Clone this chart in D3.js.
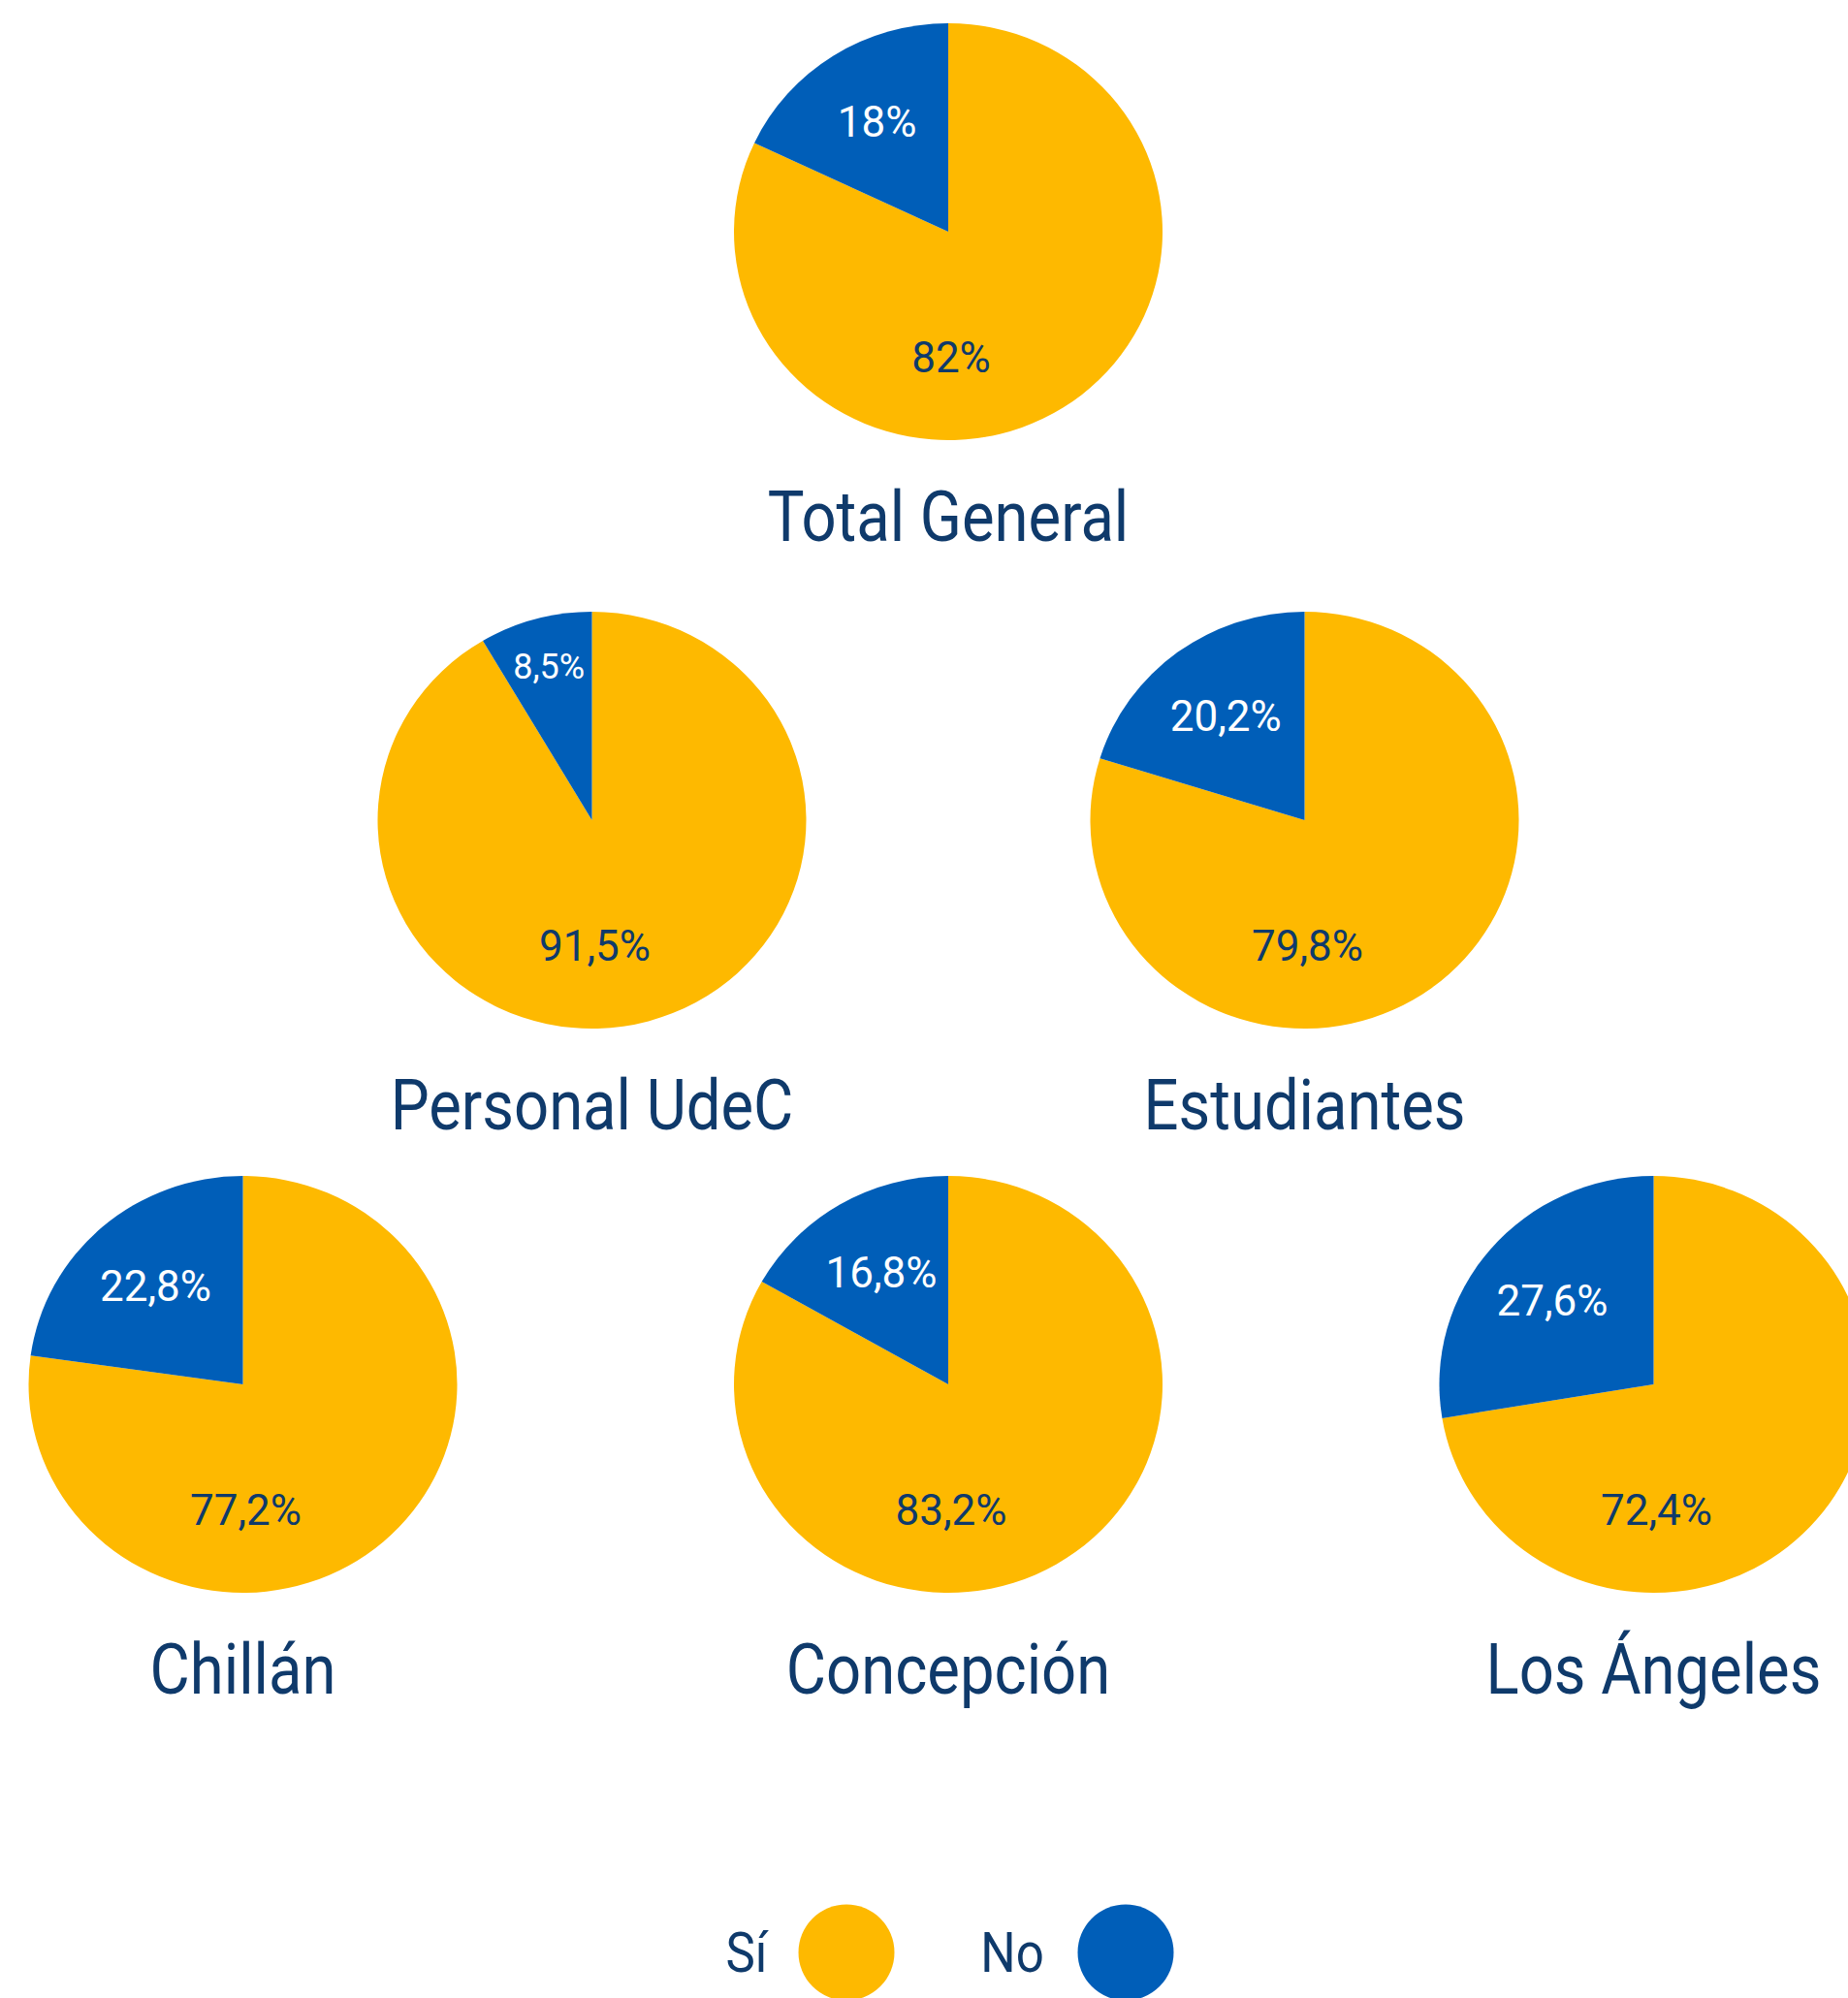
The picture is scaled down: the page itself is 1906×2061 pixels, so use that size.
<!DOCTYPE html>
<html>
<head>
<meta charset="utf-8">
<script src="https://cdn.jsdelivr.net/npm/d3@7"></script>
<style>
  html, body { margin: 0; padding: 0; background: #ffffff; }
  svg { display: block; }
  text { font-family: Roboto, "Noto Sans", sans-serif; }
</style>
</head>
<body>
<script>
// ---- data ----
const categories = ["Total General", "Personal UdeC", "Estudiantes", "Chillán", "Concepción", "Los Ángeles"];
const siValues   = [82, 91.5, 79.8, 77.2, 83.2, 72.4];
const noValues   = [18, 8.5, 20.2, 22.8, 16.8, 27.6];
const siLabels   = ["82%", "91,5%", "79,8%", "77,2%", "83,2%", "72,4%"];
const noLabels   = ["18%", "8,5%", "20,2%", "22,8%", "16,8%", "27,6%"];
const legendKeys = ["Sí", "No"];

// ---- layout / style ----
const W = 1906, H = 2061;
const colors = { "Sí": "#FEB900", "No": "#005EB8" };
const navy = "#0F3A6B";
const rx = 221, ry = 215;
const titleCompress = 0.88;
const midX = 978;
const rows = [
  { cy: 239,  spacing: 0,     count: 1 },
  { cy: 846,  spacing: 735,   count: 2 },
  { cy: 1428, spacing: 727.5, count: 3 }
];
const slots = [];
rows.forEach(r => {
  for (let i = 0; i < r.count; i++) {
    slots.push({ cx: midX + (i - (r.count - 1) / 2) * r.spacing, cy: r.cy });
  }
});

const svg = d3.select("body").append("svg").attr("width", W).attr("height", H);

const pie = d3.pie().sort(null).value(d => d.value);
const arc = d3.arc().innerRadius(0).outerRadius(rx);

function addText(parent, x, y, str, size, fill, opts = {}) {
  const sx = opts.compress || 1;
  const g = parent.append("g").attr("transform", `translate(${x},${y}) scale(${sx},1)`);
  g.append("text")
    .attr("text-anchor", "middle")
    .attr("dominant-baseline", opts.baseline || "alphabetic")
    .attr("font-size", size)
    .attr("fill", fill)
    .text(str);
  return g;
}

categories.forEach((cat, i) => {
  const { cx, cy } = slots[i];
  const data = [
    { key: "Sí", value: siValues[i], label: siLabels[i] },
    { key: "No", value: noValues[i], label: noLabels[i] }
  ];
  const arcs = pie(data);
  const g = svg.append("g").attr("transform", `translate(${cx},${cy})`);
  const gp = g.append("g").attr("transform", `scale(1,${ry / rx})`);
  gp.selectAll("path").data(arcs).join("path")
    .attr("d", arc)
    .attr("fill", d => colors[d.data.key]);

  // Sí label: below center
  const siArc = arcs[0];
  addText(g, 3, 145, siArc.data.label, 44, navy);

  // No label: at centroid of the slice
  const noArc = arcs[1];
  const small = (noArc.endAngle - noArc.startAngle) < 0.1 * 2 * Math.PI;
  const k = small ? 0.76 : 0.62;
  const lArc = d3.arc().innerRadius(rx * k).outerRadius(rx * k);
  const [lx, ly] = lArc.centroid(noArc);
  addText(g, lx, ly * ry / rx, noArc.data.label, small ? 36 : 44, "#ffffff", { baseline: "central" });

  // category title
  addText(g, 0, 319, cat, 72, navy, { compress: titleCompress });
});

// ---- legend ----
const legendItems = [
  { key: legendKeys[0], tx: 770, cx: 873 },
  { key: legendKeys[1], tx: 1044, cx: 1161 }
];
legendItems.forEach(it => {
  addText(svg, it.tx, 2034, it.key, 58, navy, { compress: titleCompress });
  svg.append("circle").attr("cx", it.cx).attr("cy", 2014).attr("r", 49.5).attr("fill", colors[it.key]);
});
</script>
</body>
</html>
